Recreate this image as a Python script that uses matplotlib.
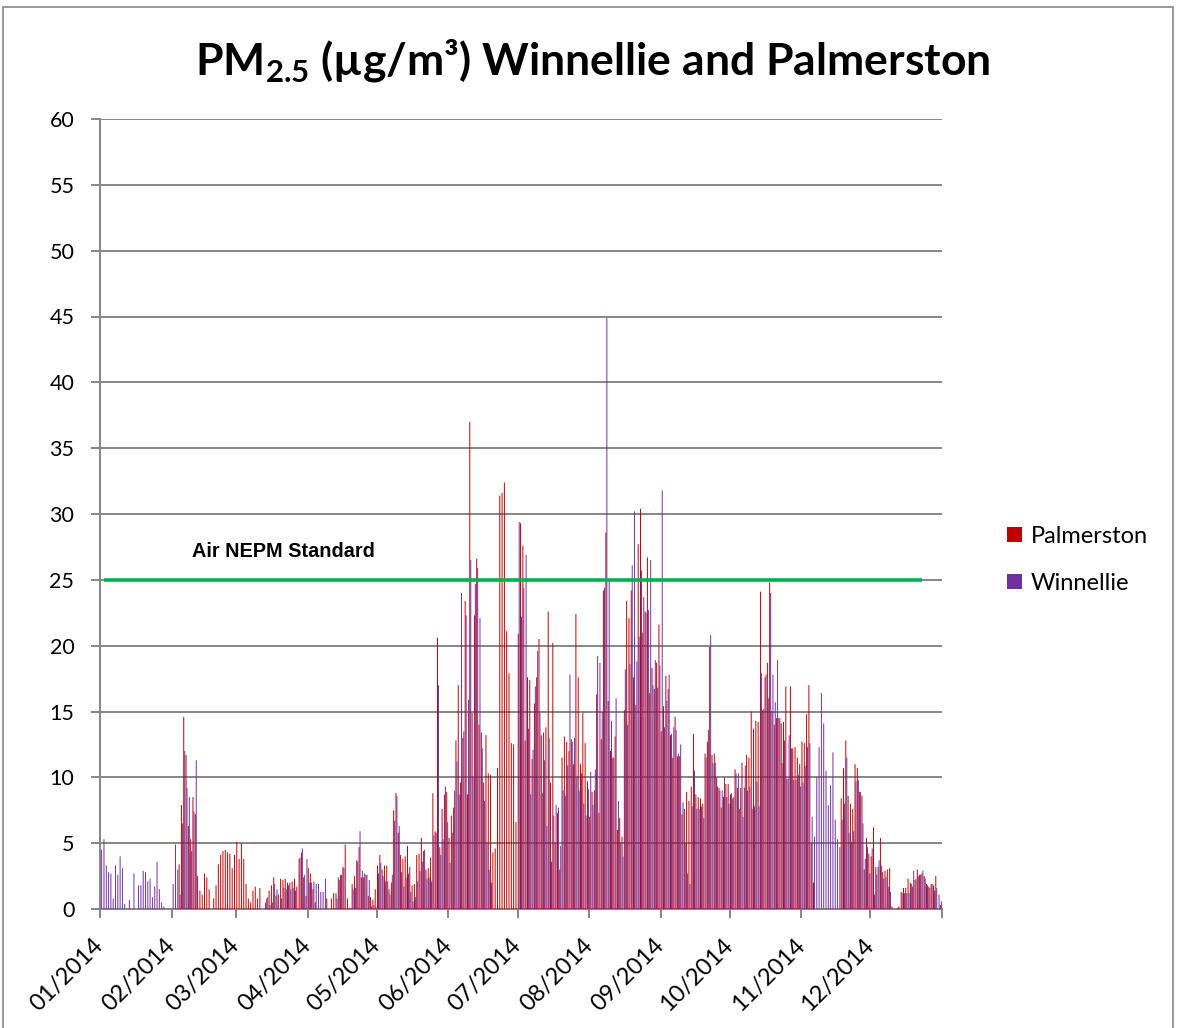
import numpy as np
import pandas as pd
import matplotlib
matplotlib.use("Agg")
import matplotlib.pyplot as plt
import matplotlib.dates as mdates
from matplotlib.patches import Rectangle

# Daily PM2.5 (ug/m3), one list per month
palm_jan = [0] * 31
palm_feb = [0, 0, 0, 3.4, 7.9, 14.6, 11.7, 6.3, 5.3, 8.5, 7.2, 2.5, 1.4, 1.1, 2.7, 2.4, 1.5, 0, 0.8, 1.8,
            3.4, 4.1, 4.4, 4.5, 4.3, 4.2, 3.1, 4.1]
palm_mar = [5.1, 3.8, 5.0, 3.8, 1.9, 0.8, 0.5, 1.4, 1.7, 0.8, 1.6, 0, 0, 0.8, 1.4, 1.8, 2.4, 1.0, 1.1, 2.3,
            2.2, 2.3, 2.0, 2.0, 2.1, 2.3, 1.7, 3.8, 4.3, 2.4, 1.0]
palm_apr = [3.1, 2.7, 1.5, 0.5, 0, 0, 0, 0, 0.8, 0, 0.8, 1.2, 1.2, 2.4, 2.6, 3.2, 4.9, 0.8, 0.1, 1.9,
            2.5, 3.7, 4.7, 2.4, 2.4, 2.6, 1.0, 0.9, 0.7, 1.5]
palm_may = [3.3, 4.1, 3.0, 3.3, 3.3, 1.5, 2.0, 7.5, 8.8, 5.8, 4.1, 3.8, 4.0, 4.8, 3.2, 1.8, 1.9, 4.1, 4.2, 5.4,
            4.4, 3.0, 3.1, 3.9, 8.8, 5.9, 20.6, 4.7, 7.6, 8.7, 8.9]
palm_jun = [5.4, 7.1, 7.7, 12.8, 17.0, 9.6, 13.0, 23.4, 8.7, 37.0, 14.9, 22.3, 26.6, 14.0, 13.4, 9.6, 13.2,
            10.3, 10.2, 4.3, 4.6, 10.7, 31.4, 31.6, 32.4, 21.1, 17.9, 12.6, 12.5, 6.6]
palm_jul = [20.9, 29.3, 27.6, 12.8, 17.6, 17.4, 11.4, 15.6, 17.6, 20.5, 13.2, 13.4, 13.8, 22.6, 9.6, 20.2,
            5.0, 7.3, 3.0, 11.5, 13.1, 12.7, 12.0, 12.9, 11.0, 22.4, 17.6, 11.0, 14.9, 12.6, 9.7]
palm_aug = [7.0, 8.9, 9.0, 16.3, 7.3, 12.9, 24.2, 28.6, 15.8, 12.0, 11.5, 13.1, 6.0, 6.9, 5.5, 15.1, 23.4,
            22.1, 24.2, 17.6, 15.5, 27.7, 30.4, 21.0, 22.6, 26.7, 16.4, 18.3, 16.7, 18.7, 21.6]
palm_sep = [13.5, 15.4, 17.7, 16.7, 13.2, 11.5, 14.6, 11.6, 11.6, 7.2, 7.6, 8.9, 8.2, 9.3, 13.3, 8.7, 8.5,
            8.4, 8.0, 11.8, 12.7, 19.9, 11.7, 11.8, 10.0, 9.2, 7.7, 8.5, 9.5, 9.5]
palm_oct = [8.7, 8.4, 10.6, 9.2, 7.6, 11.1, 9.2, 11.7, 11.5, 15.0, 13.7, 14.3, 14.2, 24.1, 15.1, 17.6, 18.7,
            24.8, 15.0, 14.0, 14.5, 14.5, 14.1, 14.2, 16.9, 9.9, 16.9, 12.2, 12.3, 11.5, 11.0]
palm_nov = [12.7, 12.6, 14.8, 17.0, 5.0, 2.0, 0, 0, 0, 0, 0, 0, 0, 0, 0, 0, 0, 8.4, 10.7, 12.8, 8.6, 8.0,
            7.6, 11.0, 10.7, 8.9, 8.6, 3.0, 5.4, 4.2]
palm_dec = [4.0, 6.2, 3.2, 3.2, 5.4, 2.8, 2.9, 3.0, 3.1, 0.2, -0.1, 0, 0.2, 1.3, 1.6, 1.6, 2.3, 2.0, 1.7,
            2.2, 3.0, 2.6, 2.7, 2.5, 1.9, 1.7, 1.9, 1.8, 2.5, 0, 0.3]

winn_jan = [4.5, 5.3, 3.3, 2.8, 2.7, 0.8, 3.3, 2.6, 4.0, 3.1, 0.4, -0.2, 0.7, -0.1, 2.7, 0, 1.8, 1.8, 2.9,
            2.8, 2.1, 2.3, 0.9, 1.7, 3.6, 1.5, 0.5, 0.2, 0, 0, 0]
winn_feb = [1.9, 4.9, 3.0, 1.1, 6.5, 12.0, 9.2, 8.5, 4.4, 7.4, 11.3] + [0] * 17
winn_mar = [0, 0, 0, 0, 0, 0, 0, 0, 0, 0, 0, 0, 0.5, 0.9, 0.3, 0.5, 1.9, 1.5, 0, 0.8, 1.6, 1.5, 1.8, 1.5,
            1.6, 1.4, 0, 3.9, 4.6, 2.6, 3.8]
winn_apr = [2.0, 2.0, 2.1, 1.9, 1.9, 1.3, 1.3, 2.3, 0, -0.2, -0.2, -0.2, 0.8, 2.2, 2.6, 3.1, 0, -0.2, -0.2,
            1.5, 1.6, 3.6, 5.9, 2.9, 2.7, 2.6, 2.2, 0.2, 0.3, 0.1]
winn_may = [2.7, 3.5, 2.5, 2.1, 2.1, 1.1, 2.6, 6.7, 8.6, 6.3, 2.8, 1.7, 2.4, 2.7, 1.3, 0.6, 0.9, 2.1, 2.9,
            3.6, 4.5, 2.3, 2.4, 2.1, 5.6, 5.8, 17.0, 4.1, 5.3, 9.3, 6.6]
winn_jun = [3.5, 5.8, 9.0, 11.2, 8.7, 24.0, 13.5, 22.3, 15.9, 26.5, 10.0, 24.7, 25.9, 22.1, 12.2, 8.2, 5.0,
            3.0, 2.0] + [0] * 11
winn_jul = [29.4, 22.2, 24.4, 26.9, 13.7, 8.7, 12.1, 16.9, 19.6, 14.9, 8.8, 11.3, 6.3, 13.0, 3.6, 7.1, 7.9,
            7.7, 4.8, 9.0, 8.6, 10.9, 17.8, 12.7, 13.0, 10.0, 9.0, 10.3, 8.0, 7.1, 9.1]
winn_aug = [10.4, 7.9, 10.6, 19.2, 18.7, 15.0, 24.4, 44.9, 25.0, 14.3, 11.5, 16.0, 8.2, 5.0, 4.0, 18.2,
            14.0, 18.6, 26.1, 30.2, 18.8, 20.7, 25.7, 23.7, 22.5, 22.7, 26.5, 17.0, 18.9, 16.8, 18.5]
winn_sep = [31.8, 13.8, 15.8, 17.8, 13.3, 13.8, 13.6, 11.8, 12.5, 8.1, 5.0, 2.7, 1.9, 7.8, 10.5, 7.6, 7.6,
            7.8, 6.9, 11.5, 13.6, 20.8, 11.1, 11.1, 9.3, 9.0, 9.0, 10.0, 8.5, 8.0]
winn_oct = [8.8, 8.5, 10.3, 10.3, 9.2, 7.0, 10.9, 9.0, 9.3, 7.6, 7.8, 9.7, 7.8, 17.9, 15.2, 17.8, 16.0,
            24.0, 17.8, 15.7, 18.9, 14.5, 11.1, 12.8, 9.9, 13.2, 12.2, 9.8, 9.8, 10.2, 9.3]
winn_nov = [9.6, 10.9, 12.3, 12.6, 7.0, 5.5, 10.0, 12.3, 16.4, 14.1, 10.5, 7.9, 9.4, 11.9, 6.8, 5.3, 4.7,
            6.8, 8.0, 11.5, 5.8, 5.1, 5.9, 9.7, 9.8, 8.9, 6.5, 3.8, 4.7, 2.7]
winn_dec = [4.6, 1.1, 2.6, 3.7, 3.3, 2.3, 2.4, 1.7, 1.3, 0, 0, 0.1, 0, 1.2, 1.2, 1.2, 1.2, 1.9, 2.9, 2.3,
            2.5, 2.6, 2.9, 2.3, 1.8, 1.6, 1.9, 1.4, 1.6, 1.1, 0.6]

palmerston = (palm_jan + palm_feb + palm_mar + palm_apr + palm_may + palm_jun +
              palm_jul + palm_aug + palm_sep + palm_oct + palm_nov + palm_dec)
winnellie = (winn_jan + winn_feb + winn_mar + winn_apr + winn_may + winn_jun +
             winn_jul + winn_aug + winn_sep + winn_oct + winn_nov + winn_dec)

nepm_standard = 25
nepm_start, nepm_end = "2014-01-02 17:00", "2014-12-23 08:00"

dias = pd.date_range("2014-01-01", periods=len(palmerston), freq="D")
x = mdates.date2num(dias)

plt.rcParams["font.family"] = ["Lato", "DejaVu Sans"]
plt.rcParams["mathtext.fontset"] = "custom"
plt.rcParams["mathtext.rm"] = "Lato:bold"
plt.rcParams["mathtext.bf"] = "Lato:bold"

gris = "#868686"
rojo = "#C00000"
morado = "#7030A0"

fig = plt.figure(figsize=(11.77, 10.28), dpi=100)
ax = fig.add_axes([100 / 1177, 1 - 909 / 1028, 842 / 1177, 790 / 1028])

# thin daily bars, not snapped so they antialias like the original
ax.bar(x + 0.3, palmerston, width=0.42, color=rojo, linewidth=0, label="Palmerston", zorder=3, snap=False)
ax.bar(x + 0.72, winnellie, width=0.42, color=morado, linewidth=0, label="Winnellie", zorder=3, snap=False)

ax.hlines(nepm_standard, mdates.datestr2num(nepm_start), mdates.datestr2num(nepm_end),
          color="#00B050", linewidth=2.6, zorder=4)
ax.text(mdates.datestr2num("2014-02-09 22:00"), 26.75, "Air NEPM Standard", fontsize=14.3,
        fontweight="bold", family="Liberation Sans", va="baseline", zorder=5)

ax.set_xlim(mdates.datestr2num("2014-01-01"), mdates.datestr2num("2015-01-01"))
ax.set_ylim(0, 60)
ax.set_yticks(np.arange(0, 61, 5))
ax.xaxis.set_major_locator(mdates.MonthLocator(bymonth=range(1, 13)))
ax.xaxis.set_major_formatter(mdates.DateFormatter("%m/%Y"))

ax.grid(axis="y", color=gris, linewidth=1.4, zorder=0)
ax.set_axisbelow(True)
for lado in ["top", "right"]:
    ax.spines[lado].set_visible(False)
for lado in ["left", "bottom"]:
    ax.spines[lado].set_color(gris)
    ax.spines[lado].set_linewidth(1.4)
ax.tick_params(axis="both", colors=gris, labelcolor="black", length=6.5, width=1.4)
ax.tick_params(axis="y", labelsize=15.5, pad=12)
ax.tick_params(axis="x", labelsize=17, pad=17)

fig.canvas.draw()
etiquetas = ax.get_xticklabels()
for etiqueta in etiquetas:
    etiqueta.set_rotation(45)
    etiqueta.set_ha("right")
    etiqueta.set_va("center")
    etiqueta.set_rotation_mode("anchor")
etiquetas[-1].set_visible(False)  # no label for 01/2015

fig.text(593 / 1177, 1 - 60 / 1028, r"PM$_{\mathbf{2.5}}$ (µg/m³) Winnellie and Palmerston",
         ha="center", va="center", fontsize=32, fontweight="bold")

ax.legend(loc="center left", bbox_to_anchor=(1.077, 0.442), frameon=False, fontsize=17,
          handlelength=0.65, handleheight=0.65, handletextpad=0.35, labelspacing=1.1,
          borderpad=0, borderaxespad=0)

fig.patches.append(Rectangle((3 / 1177, -0.01), 1170 / 1177, 1.01 - 7 / 1028, transform=fig.transFigure,
                             fill=False, edgecolor=gris, linewidth=1.2))

fig.savefig("out.png", dpi=100)
